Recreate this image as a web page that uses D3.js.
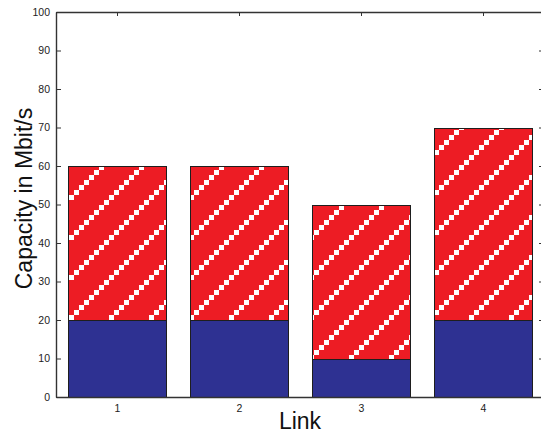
<!DOCTYPE html>
<html lang="en">
  <head>
    <meta charset="UTF-8" />
    <title>Capacity per link</title>
    <script src="https://d3js.org/d3.v7.min.js"></script>
    <style>
      body {
        margin: 0;
        background: #fff;
      }
      svg {
        display: block;
        font-family: "Liberation Sans", Arial, Helvetica, sans-serif;
      }
      .axis path,
      .axis line {
        stroke: #333;
      }
      .axis path {
        stroke-width: 1.4px;
      }
      .axis text {
        fill: #222;
        font-size: 10.5px;
      }
      .bar {
        stroke: #1e1e1e;
        stroke-width: 1px;
        shape-rendering: crispEdges;
      }
    </style>
  </head>
  <body>
    <div id="chart"></div>

    <script>
      const links = [1, 2, 3, 4];
      const baseCapacity = [20, 20, 10, 20]; // blue part
      const totalCapacity = [60, 60, 50, 70]; // top of the red part
      const yTicks = [0, 10, 20, 30, 40, 50, 60, 70, 80, 90, 100];

      const width = 541,
        height = 434;
      const plotLeft = 56,
        plotRight = 544,
        plotTop = 12,
        plotBottom = 397;

      const svg = d3
        .select("#chart")
        .append("svg")
        .attr("width", width)
        .attr("height", height);

      const x = d3.scaleLinear().domain([0.5, 4.5]).range([plotLeft, plotRight]);
      const y = d3.scaleLinear().domain([0, 100]).range([plotBottom, plotTop]);
      const barHalf = 0.4; // bar width 0.8 of a slot

      // red fill with white stair-step diagonals
      const defs = svg.append("defs");
      const pat = defs
        .append("pattern")
        .attr("id", "hatch")
        .attr("patternUnits", "userSpaceOnUse")
        .attr("x", -11)
        .attr("y", 0)
        .attr("width", 40)
        .attr("height", 40);
      pat
        .append("rect")
        .attr("width", 40)
        .attr("height", 40)
        .attr("fill", "#ed1c24");
      pat
        .selectAll("rect.dot")
        .data(d3.range(8))
        .enter()
        .append("rect")
        .attr("class", "dot")
        .attr("x", (k) => k * 5)
        .attr("y", (k) => 35 - k * 5)
        .attr("width", 5)
        .attr("height", 5)
        .attr("fill", "#fff")
        .attr("shape-rendering", "crispEdges");

      const px = (v) => Math.round(v) + 0.5;

      const bars = links.map((l, i) => ({
        link: l,
        base: baseCapacity[i],
        total: totalCapacity[i],
      }));

      const barX = (d) => px(x(d.link - barHalf));
      const barW = (d) =>
        Math.round(x(d.link + barHalf)) - Math.round(x(d.link - barHalf));

      // upper (red) segment
      svg
        .selectAll("rect.upper")
        .data(bars)
        .enter()
        .append("rect")
        .attr("class", "bar upper")
        .attr("x", barX)
        .attr("y", (d) => px(y(d.total)))
        .attr("width", barW)
        .attr("height", (d) => Math.round(y(d.base)) - Math.round(y(d.total)))
        .attr("fill", "url(#hatch)");

      // lower (blue) segment
      svg
        .selectAll("rect.lower")
        .data(bars)
        .enter()
        .append("rect")
        .attr("class", "bar lower")
        .attr("x", barX)
        .attr("y", (d) => px(y(d.base)))
        .attr("width", barW)
        .attr("height", (d) => Math.round(y(0)) - Math.round(y(d.base)))
        .attr("fill", "#2e3192");

      // axes box, ticks pointing inward
      svg
        .append("g")
        .attr("class", "axis")
        .attr("transform", `translate(${plotLeft},0)`)
        .call(
          d3.axisLeft(y).tickValues(yTicks).tickSize(-5).tickSizeOuter(0).tickPadding(6)
        );

      svg
        .append("g")
        .attr("class", "axis")
        .attr("transform", `translate(${plotRight},0)`)
        .call(
          d3.axisRight(y).tickValues(yTicks).tickSize(-5).tickSizeOuter(0).tickFormat("")
        );

      svg
        .append("g")
        .attr("class", "axis")
        .attr("transform", `translate(0,${plotTop})`)
        .call(d3.axisTop(x).tickValues(links).tickSize(-4).tickSizeOuter(0).tickFormat(""));

      svg
        .append("g")
        .attr("class", "axis")
        .attr("transform", `translate(0,${plotBottom})`)
        .call(
          d3
            .axisBottom(x)
            .tickValues(links)
            .tickSize(0)
            .tickSizeOuter(0)
            .tickPadding(8)
            .tickFormat(d3.format("d"))
        );

      // axis titles
      svg
        .append("text")
        .attr("x", (plotLeft + plotRight) / 2)
        .attr("y", 429)
        .attr("text-anchor", "middle")
        .attr("font-size", 23)
        .attr("fill", "#111")
        .text("Link");

      svg
        .append("text")
        .attr("transform", `translate(32,${(plotTop + plotBottom) / 2 - 6}) rotate(-90)`)
        .attr("text-anchor", "middle")
        .attr("font-size", 23)
        .attr("fill", "#111")
        .text("Capacity in Mbit/s");
    </script>
  </body>
</html>
